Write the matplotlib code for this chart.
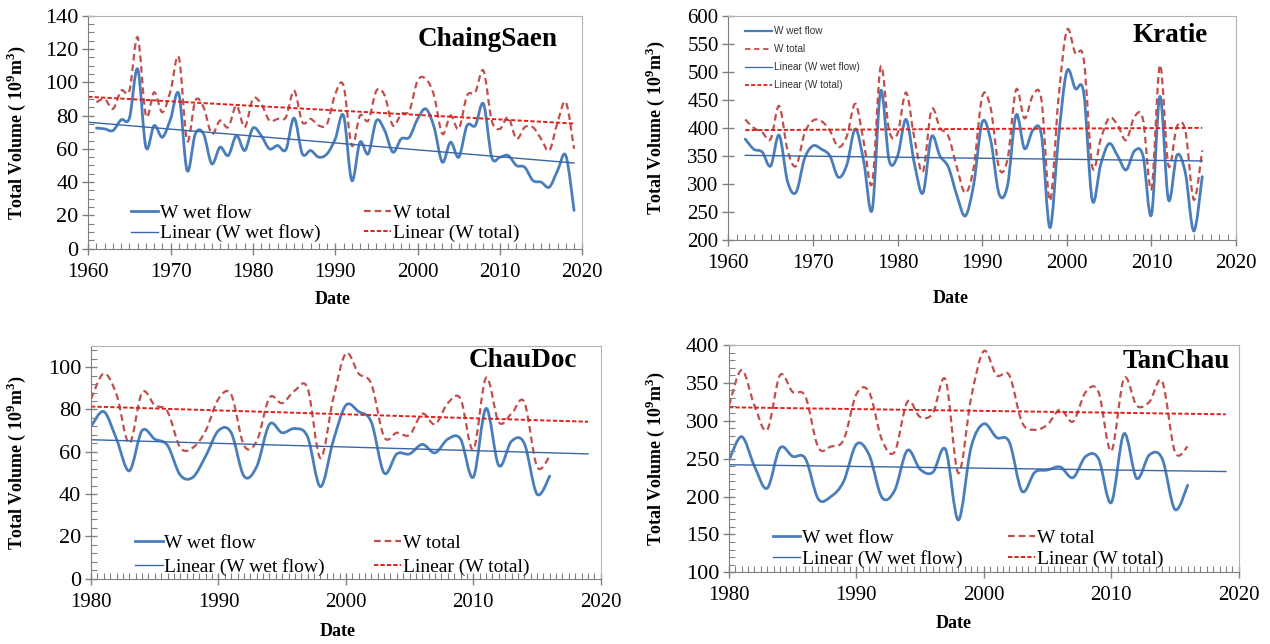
import numpy as np
import matplotlib
matplotlib.use("Agg")
import matplotlib.pyplot as plt
from matplotlib.path import Path
from matplotlib.patches import PathPatch
from matplotlib.lines import Line2D
from matplotlib.ticker import MultipleLocator

plt.rcParams["font.family"] = ["Liberation Serif", "DejaVu Serif"]
plt.rcParams["mathtext.fontset"] = "custom"
plt.rcParams["mathtext.rm"] = "Liberation Serif"
plt.rcParams["mathtext.bf"] = "Liberation Serif:bold"

# ===== data =====
cs_years = np.arange(1961, 2020)
cs_wet = [72.5, 72, 71, 77.5, 78.5, 108, 61, 74, 67, 78, 93, 47, 69, 69, 51, 61, 56, 68, 59, 72.5,
          68, 60, 62, 59.5, 78.5, 57, 59, 55, 57, 66, 80, 41, 64, 57, 77, 71, 58, 66, 67, 78,
          84, 73, 52, 64, 55, 74, 74, 87, 55, 55, 56, 50, 49, 41, 40, 37, 47, 56, 23]
cs_total = [88, 90, 84, 95, 95, 127, 80, 94, 82, 95, 115, 65, 89, 85, 69, 77, 73, 86, 73, 90,
            87, 77, 78, 79, 95, 76, 78, 74, 75, 93, 98, 62, 80, 77, 95, 92, 74, 81, 83, 101,
            102, 92, 69, 80, 72, 92, 94, 107, 77, 72, 79, 66, 73, 73, 66, 59, 76, 88, 60]
cs_trend_years = [1960, 2019]
cs_trend_wet = [76, 51.5]
cs_trend_total = [91.3, 75.2]

kr_years = np.arange(1962, 2017)
kr_wet = [380, 362, 357, 332, 387, 304, 285, 345, 368, 362, 350, 312, 334, 398, 340, 254, 466, 342, 350,
          415, 335, 284, 384, 350, 330, 280, 243, 300, 410, 378, 282, 298, 423, 363, 396, 387, 222, 380,
          501, 470, 462, 271, 335, 372, 350, 325, 359, 350, 245, 456, 272, 351, 320, 216, 313]
kr_total = [415, 400, 392, 380, 439, 360, 332, 390, 413, 412, 395, 366, 385, 443, 375, 302, 509, 395, 390,
            463, 380, 322, 432, 400, 385, 330, 284, 330, 456, 435, 328, 345, 468, 417, 458, 450, 270, 450,
            574, 533, 522, 331, 380, 418, 405, 378, 420, 415, 291, 512, 333, 402, 395, 272, 360]
kr_trend_years = [1962, 2016]
kr_trend_wet = [351, 341]
kr_trend_total = [396, 400]

cd_years = np.arange(1980, 2017)
cd_wet = [72, 79, 66, 51, 70, 66, 63, 49, 48, 58, 70, 69, 48.5, 53, 73, 69, 71, 67, 43.5, 65,
          82, 79, 74, 50, 59, 59, 63.5, 59.5, 66, 66, 48, 80.5, 53.5, 65, 64, 40, 48.5]
cd_total = [85, 97, 87, 64, 88, 82, 79, 62, 62, 70, 85, 87, 63, 65, 85.5, 83, 89, 90, 57, 85,
            106.5, 97, 92, 67, 69, 68, 78, 73, 83, 85, 61, 95, 74, 78, 83.5, 53, 58]
cd_trend_years = [1980, 2019]
cd_trend_wet = [65.7, 59]
cd_trend_total = [81.4, 74.2]

tc_years = np.arange(1980, 2017)
tc_wet = [248, 279, 240, 211, 264, 253, 250, 197, 200, 220, 269, 255, 199, 208, 261, 236, 232, 262, 169, 265,
          296, 278, 272, 207, 232, 235, 239, 225, 253, 250, 192, 283, 224, 255, 250, 183, 215]
tc_total = [320, 367, 320, 288, 360, 338, 332, 265, 266, 275, 335, 338, 275, 259, 325, 305, 310, 354, 231, 330,
            392, 360, 360, 298, 288, 295, 315, 299, 338, 338, 260, 356, 320, 325, 352, 259, 266]
tc_trend_years = [1980, 2019]
tc_trend_wet = [242, 233]
tc_trend_total = [317.8, 308.5]

C_WET = "#4A7EBB"
C_TOT = "#C0504D"
C_LWET = "#3A66A6"
C_LTOT = "#E0201E"
LS_TOT = (0, (3.0, 1.8))
LS_LTOT = (0, (2.2, 1.1))


def smooth_line(ax, x, y, **kw):
    # Excel-like smoothed line: cubic Bezier segments through the points
    p = np.column_stack([x, y]).astype(float)
    verts = [p[0]]
    codes = [Path.MOVETO]
    n = len(p)
    for i in range(n - 1):
        p0 = p[max(i - 1, 0)]
        p3 = p[min(i + 2, n - 1)]
        c1 = p[i] + (p[i + 1] - p0) / 6.0
        c2 = p[i + 1] - (p3 - p[i]) / 6.0
        verts += [c1, c2, p[i + 1]]
        codes += [Path.CURVE4] * 3
    ax.add_patch(PathPatch(Path(verts, codes), fill=False, transform=ax.transData, **kw))


def panel(rect, years, wet, total, tyears, twet, ttotal, xlim, ylim, ymaj, ymin, xmin,
          name, name_xy, ylab_x, date_xy, ysize=16, small_legend=False, leg_anchor=None,
          colsp=2.2, labsp=0.15):
    ax = fig.add_axes(rect)
    smooth_line(ax, years, wet, edgecolor=C_WET, linewidth=2.0, capstyle="round", joinstyle="round")
    smooth_line(ax, years, total, edgecolor=C_TOT, linewidth=1.6, linestyle=LS_TOT)
    ax.plot(tyears, twet, color=C_LWET, linewidth=1.0)
    ax.plot(tyears, ttotal, color=C_LTOT, linewidth=1.4, linestyle=LS_LTOT)
    ax.set_xlim(*xlim)
    ax.set_ylim(*ylim)
    ax.xaxis.set_major_locator(MultipleLocator(10))
    ax.xaxis.set_minor_locator(MultipleLocator(xmin))
    ax.yaxis.set_major_locator(MultipleLocator(ymaj))
    if ymin:
        ax.yaxis.set_minor_locator(MultipleLocator(ymin))
    ax.tick_params(which="major", direction="inout", length=8, width=1, color="#808080")
    ax.tick_params(which="minor", direction="in", length=4, width=0.8, color="#808080")
    ax.tick_params(axis="x", which="major", labelsize=15, pad=6)
    ax.tick_params(axis="y", which="major", labelsize=ysize, pad=3)
    for s in ["left", "bottom"]:
        ax.spines[s].set_color("#808080")
    for s in ["top", "right"]:
        ax.spines[s].set_color("#B4B4B4")
    ax.text(name_xy[0], name_xy[1], name, transform=ax.transAxes, ha="right", va="center",
            fontsize=19.5, fontweight="bold")
    ax.set_ylabel(r"Total Volume ( 10$^\mathbf{9}$m$^\mathbf{3}$)", fontsize=13, fontweight="bold")
    ax.yaxis.set_label_coords(ylab_x, 0.5)
    ax.text(date_xy[0], date_xy[1], "Date", transform=ax.transAxes, ha="center", va="center",
            fontsize=13, fontweight="bold")

    labels = ["W wet flow", "Linear (W wet flow)", "W total", "Linear (W total)"]
    if small_legend:
        h = [Line2D([], [], color=C_WET, lw=1.6),
             Line2D([], [], color=C_LWET, lw=0.9),
             Line2D([], [], color=C_TOT, lw=1.3, ls=(0, (3.0, 2.0))),
             Line2D([], [], color=C_LTOT, lw=1.3, ls=(0, (2.2, 1.2)))]
        order = [0, 2, 1, 3]
        ax.legend([h[i] for i in order], [labels[i] for i in order], loc="upper left",
                  bbox_to_anchor=leg_anchor, frameon=False, ncol=1, labelcolor="#333333",
                  prop={"family": "Liberation Sans", "size": 7.2}, handlelength=2.7,
                  handletextpad=0.15, labelspacing=0.8, borderaxespad=0, borderpad=0)
    else:
        h = [Line2D([], [], color=C_WET, lw=2.0),
             Line2D([], [], color=C_LWET, lw=1.0),
             Line2D([], [], color=C_TOT, lw=1.6, ls=LS_TOT),
             Line2D([], [], color=C_LTOT, lw=1.4, ls=LS_LTOT)]
        ax.legend(h, labels, loc="lower left", bbox_to_anchor=leg_anchor, frameon=False, ncol=2,
                  fontsize=14, handlelength=1.42, handletextpad=0.1, labelspacing=labsp,
                  columnspacing=colsp, borderaxespad=0, borderpad=0)
    return ax


fig = plt.figure(figsize=(12.7, 6.44), dpi=100)

panel([0.0695, 0.6138, 0.389, 0.3618], cs_years, cs_wet, cs_total,
      cs_trend_years, cs_trend_wet, cs_trend_total, (1960, 2020), (0, 140), 20, 5, 1,
      "ChaingSaen", (0.949, 0.896), -0.122, (0.495, -0.22),
      leg_anchor=(0.086, 0.027), colsp=2.2, labsp=0.15)

panel([0.5735, 0.6273, 0.3998, 0.3483], kr_years, kr_wet, kr_total,
      kr_trend_years, kr_trend_wet, kr_trend_total, (1960, 2020), (200, 600), 50, None, 1,
      "Kratie", (0.945, 0.914), -0.121, (0.437, -0.259), ysize=15,
      small_legend=True, leg_anchor=(0.033, 0.953))

panel([0.0717, 0.1014, 0.4013, 0.3613], cd_years, cd_wet, cd_total,
      cd_trend_years, cd_trend_wet, cd_trend_total, (1980, 2020), (0, 110), 20, 4, 0.5,
      "ChauDoc", (0.953, 0.937), -0.124, (0.483, -0.225),
      leg_anchor=(0.086, 0.012), colsp=2.5, labsp=0.3)

panel([0.574, 0.1113, 0.4013, 0.353], tc_years, tc_wet, tc_total,
      tc_trend_years, tc_trend_wet, tc_trend_total, (1980, 2020), (100, 400), 50, 10, 0.5,
      "TanChau", (0.983, 0.927), -0.122, (0.44, -0.227),
      leg_anchor=(0.086, 0.02), colsp=2.3, labsp=0.15)

fig.savefig("out.png", dpi=100, facecolor="white")
